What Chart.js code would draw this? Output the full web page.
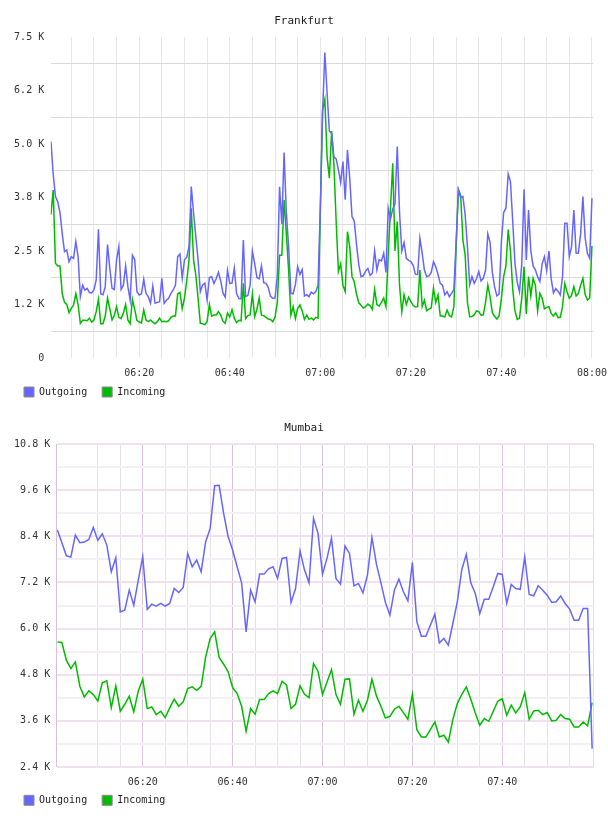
<!DOCTYPE html>
<html lang="en">
<head>
<meta charset="UTF-8">
<title>Frankfurt / Mumbai traffic</title>
<script src="https://cdn.jsdelivr.net/npm/chart.js@4"></script>
<style>
  html, body { margin: 0; padding: 0; background: #fff; overflow: hidden; }
  .box { position: absolute; left: 0; width: 608px; }
  #boxFra { top: 0; height: 414px; }
  #boxMum { top: 407px; height: 416px; }
</style>
</head>
<body>
<div class="box" id="boxFra"><canvas id="chartFra"></canvas></div>
<div class="box" id="boxMum"><canvas id="chartMum"></canvas></div>
<script>
const seriesNames = ['Outgoing', 'Incoming'];
const seriesColors = ['#6666ff', '#00bb00'];

// Frankfurt: one sample every 30 s, first at 06:00:30
const frankfurtOut = [
  5056, 4300, 3770, 3650, 3400, 2900, 2485, 2524, 2250, 2368,
  2329, 2719, 2368, 1433, 1700, 1589, 1628, 1530, 1520, 1589,
  1823, 3007, 1500, 1480, 1667, 2650, 2100, 1628, 1600, 2300,
  2602, 1600, 1700, 2150, 1667, 1350, 2400, 2300, 1550, 1472,
  1500, 1838, 1511, 1433, 1278, 1683, 1278, 1300, 1317, 1862,
  1278, 1350, 1394, 1511, 1589, 1700, 2368, 2430, 1862, 2300,
  2350, 2600, 4004, 3400, 2836, 2300, 1550, 1706, 1750, 1355,
  1880, 1900, 1740, 1850, 2000, 1800, 1520, 1420, 2050, 1745,
  1750, 2100, 1511, 1390, 1380, 2758, 1433, 1460, 1706, 2500,
  2212, 1880, 1850, 2150, 1760, 1745, 1650, 1440, 1394, 1400,
  1900, 4000, 3130, 4800, 3400, 2600, 1511, 1500, 1720, 2134,
  1950, 2070, 1450, 1480, 1433, 1540, 1500, 1550, 1700, 3500,
  5718, 7136, 6200, 5300, 5250, 4700, 4650, 4400, 4100, 4588,
  3700, 4861, 4200, 3303, 3200, 2650, 2180, 1900, 1920, 2030,
  2090, 1930, 1980, 2500, 2057, 2300, 2270, 2450, 2000, 3500,
  3250, 3480, 3600, 4939, 3400, 2500, 2700, 2329, 2280, 2251,
  2170, 1960, 1950, 2797, 2450, 2050, 1901, 1920, 2000, 2251,
  2130, 1950, 1745, 1700, 1472, 1550, 1433, 1511, 1600, 2700,
  3926, 3750, 3770, 3342, 2600, 1706, 1900, 1745, 1850, 2018,
  1800, 1862, 2050, 2900, 2700, 2000, 1660, 1450, 1500, 2719,
  3400, 3500, 4300, 4121, 3200, 2212, 1770, 1550, 2200, 3942,
  2290, 3459, 2500, 2150, 2060, 1900, 1784, 2200, 2368, 2040,
  2500, 1850, 1520, 1620, 1560, 1472, 1900, 3147, 3150, 2368,
  2600, 3459, 2450, 2446, 2900, 3770, 2800, 2446, 2329, 3731
];
const frankfurtIn = [
  3350, 3926, 2212, 2150, 2150, 1500, 1300, 1250, 1059, 1161,
  1239, 1500, 1250, 810, 880, 880, 870, 930, 840, 888,
  1083, 1371, 800, 800, 981, 1400, 1150, 888, 1000, 1200,
  950, 920, 1050, 1250, 888, 800, 1371, 1137, 880, 840,
  820, 1122, 888, 850, 888, 840, 800, 849, 930, 850,
  860, 850, 870, 950, 981, 981, 1500, 1530, 1150, 1400,
  1800, 2290, 3498, 2300, 1940, 1400, 810, 800, 780, 850,
  1250, 980, 1005, 1005, 1083, 1000, 860, 810, 1050, 960,
  1130, 930, 830, 880, 870, 1745, 920, 990, 1005, 1500,
  966, 1140, 1400, 1000, 990, 950, 910, 900, 849, 950,
  1300, 2400, 2400, 3692, 2900, 2057, 1000, 1200, 920, 1161,
  1240, 1100, 900, 1000, 904, 930, 890, 950, 930, 3400,
  5800, 6045, 4700, 4200, 5300, 4540, 3200, 2020, 2200, 1700,
  1550, 2952, 2600, 1900, 1780, 1490, 1290, 1230, 1170, 1200,
  1260, 1220, 1137, 1600, 1250, 1210, 1300, 1400, 1200, 2400,
  3500, 4549, 2500, 3186, 1700, 1080, 1480, 1250, 1420, 1317,
  1230, 1190, 1200, 2057, 1200, 1350, 1106, 1140, 1170, 1628,
  1300, 1472, 980, 980, 960, 1120, 990, 960, 1200, 2602,
  3942, 3800, 2760, 2400, 1300, 966, 970, 1005, 1100, 1083,
  1000, 1010, 1300, 1706, 1430, 1060, 975, 910, 990, 1400,
  1900, 2150, 3000, 2500, 1605, 1100, 900, 930, 1400, 2134,
  1030, 1901, 1450, 1862, 1700, 1100, 1511, 1400, 1150, 1184,
  1200, 1040, 980, 1059, 940, 950, 1200, 1740, 1550, 1394,
  1460, 1667, 1450, 1511, 1700, 1862, 1480, 1355, 1400, 2617
];

// Mumbai: one sample a minute, first at 06:01
const mumbaiOut = [
  8561, 8230, 7893, 7858, 8431, 8232, 8249, 8318, 8631, 8292,
  8466, 8171, 7477, 7841, 6435, 6479, 6999, 6609, 7260, 7867,
  6497, 6635, 6583, 6653, 6583, 6653, 7043, 6938, 7069, 7954,
  7607, 7780, 7477, 8258, 8605, 9715, 9724, 8995, 8388, 8041,
  7607, 7190, 5914, 6999, 6696, 7416, 7416, 7555, 7607, 7303,
  7824, 7850, 6679, 7043, 8015, 7520, 7190, 8865, 8475, 7416,
  7824, 8345, 7303, 7156, 8145, 7954, 7112, 7173, 6930, 7390,
  8370, 7676, 7190, 6679, 6349, 6999, 7286, 6956, 6722, 7720,
  6175, 5802, 5802, 6088, 6375, 5628, 5741, 5568, 6132, 6696,
  7537, 7928, 7190, 6913, 6392, 6765, 6765, 7086, 7433, 7407,
  6653, 7147, 7043, 7017, 7867, 6887, 6852, 7112, 6999, 6869,
  6679, 6696, 6843, 6653, 6505, 6218, 6218, 6522, 6522, 2878
];
const mumbaiIn = [
  5654, 5637, 5177, 4960, 5134, 4500, 4223, 4379, 4283, 4119,
  4587, 4639, 3945, 4509, 3850, 4032, 4240, 3832, 4379, 4682,
  3919, 3962, 3763, 3850, 3685, 3936, 4162, 3980, 4093, 4440,
  4483, 4396, 4500, 5264, 5741, 5915, 5247, 5073, 4873, 4466,
  4309, 3980, 3329, 3919, 3772, 4153, 4153, 4309, 4379, 4309,
  4630, 4526, 3919, 4032, 4509, 4292, 4205, 5090, 4891, 4283,
  4613, 4934, 4283, 4032, 4682, 4691, 3772, 4136, 3850, 4136,
  4682, 4249, 3980, 3676, 3719, 3902, 3980, 3815, 3641, 4292,
  3372, 3181, 3181, 3372, 3572, 3181, 3225, 3051, 3633, 4049,
  4292, 4483, 4162, 3806, 3485, 3659, 3589, 3850, 4110, 4179,
  3746, 4006, 3806, 3962, 4335, 3641, 3858, 3876, 3763, 3815,
  3598, 3615, 3763, 3659, 3641, 3442, 3442, 3572, 3468, 4075
];

const frankfurtYTicks = ['0', '1.2 K', '2.5 K', '3.8 K', '5.0 K', '6.2 K', '7.5 K'];
const mumbaiYTicks = ['2.4 K', '3.6 K', '4.8 K', '6.0 K', '7.2 K', '8.4 K', '9.6 K', '10.8 K'];
const timeTicks = ['06:20', '06:40', '07:00', '07:20', '07:40', '08:00']; // minutes 20,40,..,120 after 06:00

// minutes after 06:00 for each sample
const frankfurtMinutes = frankfurtOut.map((_, i) => 0.5 + i * 0.5);
const mumbaiMinutes = mumbaiOut.map((_, i) => 1 + i);

const mono = "'DejaVu Sans Mono', monospace";
const clear = 'rgba(0,0,0,0)';

// title centred on the whole canvas; legend pulled up close under the time labels
const tweakBoxes = {
  id: 'tweakBoxes',
  afterLayout(chart, args, opts) {
    const t = chart.titleBlock;
    if (t) { t.left = 0; t.right = chart.width; t.width = chart.width; }
    const lg = chart.legend;
    if (lg) { lg.top -= opts.legendShift; lg.bottom -= opts.legendShift; }
  }
};

function panel(id, c) {
  const pts = vals => c.minutes.map((m, i) => ({x: m, y: vals[i]}));
  return new Chart(document.getElementById(id), {
    type: 'line',
    data: {
      datasets: [
        {label: seriesNames[0], data: pts(c.out), borderColor: seriesColors[0], backgroundColor: seriesColors[0]},
        {label: seriesNames[1], data: pts(c.inc), borderColor: seriesColors[1], backgroundColor: seriesColors[1]}
      ]
    },
    plugins: [tweakBoxes],
    options: {
      responsive: true,
      maintainAspectRatio: false,
      animation: false,
      events: [],
      datasets: {line: {borderWidth: 1.5, pointRadius: 0, tension: 0, fill: false}},
      layout: {padding: {left: 9, right: c.padRight, top: 0, bottom: 0}},
      plugins: {
        tweakBoxes: {legendShift: c.legendShift},
        title: {
          display: true, text: c.title, color: '#222',
          font: {family: mono, size: 11, weight: 'normal'},
          padding: {top: c.titleTop, bottom: c.titleBottom}
        },
        legend: {
          position: 'bottom', align: 'start',
          labels: {
            boxWidth: 10, boxHeight: 10, padding: 15, color: '#222',
            font: {family: mono, size: 10},
            generateLabels: ch => Chart.defaults.plugins.legend.labels.generateLabels(ch)
              .map(it => Object.assign(it, {strokeStyle: '#8c8c8c', lineWidth: 1}))
          }
        },
        tooltip: {enabled: false}
      },
      scales: {
        x: {
          type: 'linear', min: c.xMin, max: c.xMax,
          afterFit: s => { s.height = 21; s.paddingLeft = 0; s.paddingRight = 0; },
          border: {display: false},
          grid: {drawTicks: false, color: c.xGrid, lineWidth: 1},
          ticks: {
            stepSize: 5, includeBounds: c.xBounds, autoSkip: false, maxRotation: 0, minRotation: 0,
            padding: 9, color: '#333', font: {family: mono, size: 10},
            callback: v => (v > 0 && v % 20 === 0 && v <= c.lastLabel) ? timeTicks[v / 20 - 1] : ''
          }
        },
        y: {
          min: c.yMin, max: c.yMax,
          afterFit: s => { s.width = c.yWidth; },
          border: {display: false},
          grid: {drawTicks: false, color: c.yGrid, lineWidth: c.yLine},
          ticks: {
            stepSize: c.yStep / 2, autoSkip: false, padding: 6.5, color: '#333',
            font: {family: mono, size: 10},
            callback: v => (v - c.yMin) % c.yStep === 0 ? c.yLabels[(v - c.yMin) / c.yStep] : ''
          }
        }
      }
    }
  });
}

panel('chartFra', {
  title: 'Frankfurt', minutes: frankfurtMinutes, out: frankfurtOut, inc: frankfurtIn,
  padRight: 14.7, titleTop: 14.1, titleBottom: 9.7, legendShift: 7,
  xMin: 0.45, xMax: 120.3, xBounds: false, lastLabel: 120,
  xGrid: () => '#e6e6e6',
  yMin: 0, yMax: 7500, yStep: 1250, yLabels: frankfurtYTicks, yWidth: 41.7, yLine: 1,
  yGrid: ctx => (ctx.tick && ctx.tick.value % 1250 === 0) ? clear : '#dadada'
});

panel('chartMum', {
  title: 'Mumbai', minutes: mumbaiMinutes, out: mumbaiOut, inc: mumbaiIn,
  padRight: 14.3, titleTop: 14.4, titleBottom: 9.4, legendShift: 7.7,
  xMin: 0.85, xMax: 120.35, xBounds: true, lastLabel: 100,
  xGrid: ctx => {
    const v = ctx.tick ? ctx.tick.value : 0;
    if (v === 0.85) return '#d6c0d6';
    if (v === 120.35) return '#e6d8e6';
    if (v === 120) return clear;
    return v % 20 === 0 ? '#d8c3d8' : '#e8e0e8';
  },
  yMin: 2400, yMax: 10800, yStep: 1200, yLabels: mumbaiYTicks, yWidth: 47.7, yLine: 2,
  yGrid: ctx => (ctx.tick && (ctx.tick.value - 2400) % 1200 === 0) ? '#f0e0f0' : '#f4eff4'
});
</script>
</body>
</html>
